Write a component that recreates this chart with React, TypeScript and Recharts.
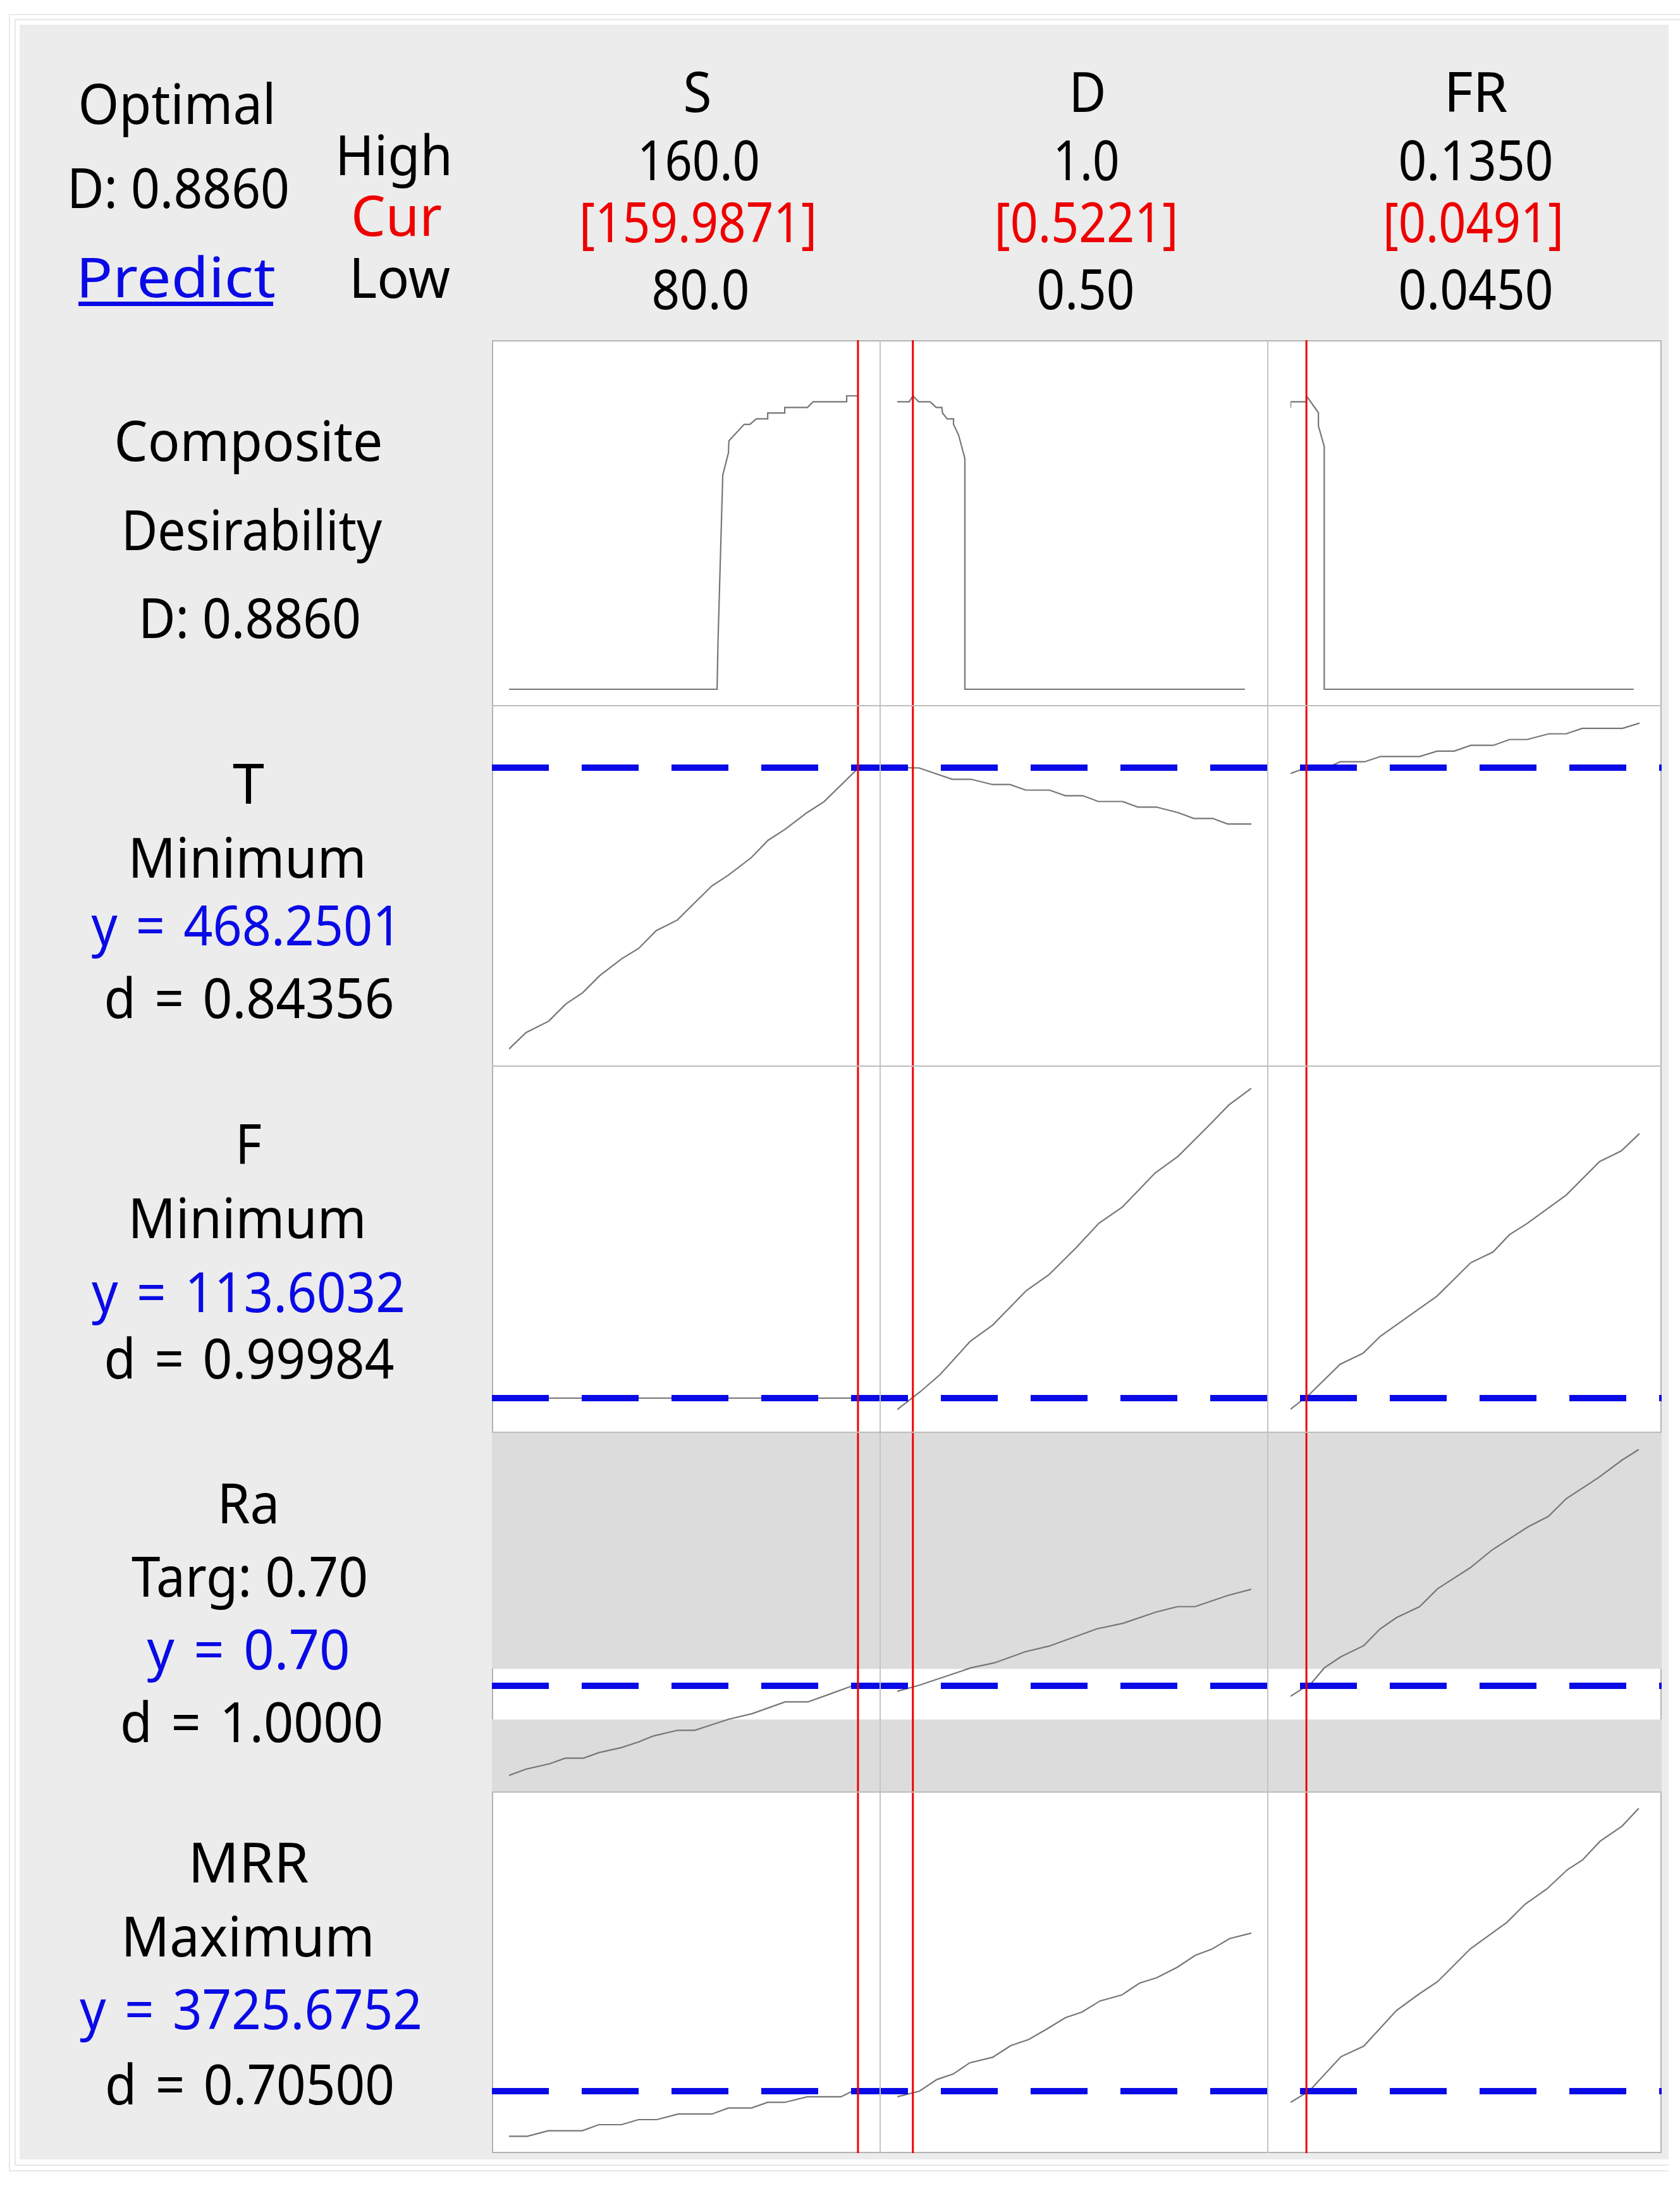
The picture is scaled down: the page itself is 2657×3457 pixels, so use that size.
import React from "react";
import { LineChart, Line, XAxis, YAxis, ReferenceLine, ReferenceArea } from "recharts";

// factor settings (header)
const factorNames = ["S", "D", "FR"];
const factorHigh = [160.0, 1.0, 0.135];
const factorLow = [80.0, 0.5, 0.045];
const factorCur = [159.9871, 0.5221, 0.0491];
const highDigits = [1, 1, 4];
const lowDigits = [1, 2, 4];

const compositeD = 0.886;

// responses
const respNames = ["T", "F", "Ra", "MRR"];
const respGoals = ["Minimum", "Minimum", "Targ: 0.70", "Maximum"];
const respY = [468.2501, 113.6032, 0.7, 3725.6752];
const respYText = ["468.2501", "113.6032", "0.70", "3725.6752"];
const respDText = ["0.84356", "0.99984", "1.0000", "0.70500"];
const raBand = [0.6, 0.75];

type Pt = [number, number];

// composite desirability vs each factor
const dS: Pt[] = [
  [80, 0], [127.7, 0], [127.9, 0.141], [129.0, 0.647], [130.3, 0.714], [130.4, 0.75],
  [133.9, 0.8], [135.2, 0.8], [136.7, 0.8165], [139.3, 0.8165], [139.3, 0.834], [143.2, 0.834],
  [143.2, 0.851], [148.4, 0.851], [149.7, 0.868], [157.4, 0.868], [157.4, 0.886], [160, 0.886],
];
const dD: Pt[] = [
  [0.5, 0.868], [0.517, 0.868], [0.5221, 0.886], [0.5304, 0.868], [0.5464, 0.868], [0.555, 0.851],
  [0.563, 0.851], [0.564, 0.834], [0.5705, 0.8165], [0.5795, 0.8165], [0.5795, 0.8], [0.5866, 0.768],
  [0.5955, 0.697], [0.5955, 0], [0.991, 0],
];
const dFR: Pt[] = [
  [0.045, 0.85], [0.045, 0.868], [0.0491, 0.868], [0.0491, 0.886], [0.0522, 0.835], [0.0522, 0.795],
  [0.0537, 0.733], [0.0537, 0], [0.1335, 0],
];

// T
const tS: Pt[] = [
  [80, 245.8], [83.9, 258.8], [89.1, 267.8], [93.0, 281.3], [96.9, 290.3], [100.8, 303.8],
  [105.9, 317.3], [109.7, 325.3], [113.7, 339.3], [118.6, 347.8], [126.4, 374.5], [130.3, 383.3],
  [135.5, 397.0], [139.4, 410.9], [143.2, 419.3], [148.4, 432.9], [152.2, 441.3], [159.5, 466.0],
  [160, 468.25],
];
const tD: Pt[] = [
  [0.5, 468.3], [0.531, 468.0], [0.5776, 459.1], [0.604, 459.1], [0.6346, 454.9], [0.659, 454.9],
  [0.6816, 450.5], [0.715, 450.5], [0.7375, 446.1], [0.762, 446.1], [0.784, 441.5], [0.818, 441.5],
  [0.8398, 437.1], [0.8659, 437.1], [0.8977, 432.5], [0.9188, 428.1], [0.9455, 428.1], [0.9666, 423.7],
  [1.0, 423.7],
];
const tFR: Pt[] = [
  [0.045, 463.7], [0.0491, 468.25], [0.0554, 469.5], [0.0578, 472.9], [0.0641, 472.9], [0.0682, 477.1],
  [0.0783, 477.1], [0.0828, 481.3], [0.0872, 481.3], [0.0915, 485.9], [0.0973, 485.9], [0.1015, 490.5],
  [0.106, 490.5], [0.1116, 495.0], [0.1161, 495.0], [0.1202, 499.3], [0.1306, 499.3], [0.135, 503.5],
];

// F
const fS: Pt[] = [[80, 113.6032], [160, 113.6032]];
const fD: Pt[] = [
  [0.5, 109.05], [0.5322, 116.05], [0.5605, 122.9], [0.6029, 136.0], [0.6347, 142.45], [0.6823, 156.1],
  [0.7141, 162.35], [0.753, 173.15], [0.7847, 182.7], [0.8182, 189.2], [0.8641, 202.6], [0.8966, 209.2],
  [0.9418, 221.85], [0.9683, 229.5], [1.0, 236.05],
];
const fFR: Pt[] = [
  [0.045, 109.2], [0.0499, 115.1], [0.0578, 127.0], [0.0637, 131.35], [0.0682, 138.1], [0.0828, 153.95],
  [0.0915, 167.15], [0.0972, 171.35], [0.1015, 178.25], [0.106, 182.65], [0.1161, 193.9], [0.1247, 207.1],
  [0.1303, 211.35], [0.135, 218.2],
];

// Ra
const raS: Pt[] = [
  [80, 0.4343], [83.8, 0.4525], [89.3, 0.469], [92.9, 0.4855], [97.1, 0.4855], [100.6, 0.502],
  [105.8, 0.517], [109.7, 0.5337], [113.2, 0.5517], [118.7, 0.5682], [122.6, 0.5682], [126.5, 0.5847],
  [130.4, 0.6012], [135.8, 0.6177], [143.3, 0.6523], [148.5, 0.6523], [153.7, 0.6764], [158.5, 0.699],
  [160, 0.7],
];
const raD: Pt[] = [
  [0.5, 0.6839], [0.5313, 0.7019], [0.6039, 0.7531], [0.6372, 0.7681], [0.6812, 0.8012], [0.7145, 0.8178],
  [0.7817, 0.8688], [0.8188, 0.8853], [0.8651, 0.9184], [0.896, 0.9349], [0.9207, 0.9349], [0.9671, 0.9681],
  [1.0, 0.9861],
];
const raFR: Pt[] = [
  [0.045, 0.6689], [0.0505, 0.7094], [0.0537, 0.7531], [0.058, 0.7863], [0.0639, 0.8193], [0.0681, 0.8688],
  [0.0723, 0.9019], [0.0783, 0.9349], [0.0829, 0.9876], [0.0914, 1.0506], [0.097, 1.1031], [0.1062, 1.171],
  [0.1115, 1.2025], [0.1161, 1.255], [0.1245, 1.3182], [0.1305, 1.3694], [0.1348, 1.4009],
];

// MRR
const mrrS: Pt[] = [
  [80, 3011.7], [84.2, 3011.7], [89.0, 3099.7], [96.8, 3099.7], [100.6, 3195.7], [105.8, 3195.7],
  [109.7, 3275.7], [113.9, 3275.7], [118.8, 3363.7], [126.5, 3363.7], [130.3, 3459.7], [135.6, 3459.7],
  [139.3, 3548.7], [143.2, 3548.7], [148.4, 3636.7], [156.1, 3636.7], [158.7, 3725.7], [160, 3725.7],
];
const mrrD: Pt[] = [
  [0.5, 3636.7], [0.5313, 3725.7], [0.556, 3909.7], [0.5792, 3997.7], [0.6024, 4173.7], [0.6348, 4261.7],
  [0.6603, 4445.7], [0.6858, 4542.7], [0.7105, 4702.7], [0.7376, 4887.7], [0.7608, 4975.7], [0.7863, 5151.7],
  [0.8173, 5247.7], [0.842, 5432.7], [0.8667, 5520.7], [0.896, 5688.7], [0.9207, 5872.7], [0.944, 5969.7],
  [0.9694, 6137.7], [1.0, 6225.7],
];
const mrrFR: Pt[] = [
  [0.045, 3548.7], [0.0498, 3725.7], [0.058, 4269.7], [0.0639, 4437.7], [0.0723, 4999.7], [0.078, 5255.7],
  [0.0829, 5455.7], [0.0914, 5977.7], [0.1008, 6394.7], [0.1055, 6682.7], [0.1111, 6923.7], [0.1164, 7227.7],
  [0.1203, 7380.7], [0.1248, 7676.7], [0.1305, 7917.7], [0.1348, 8197.7],
];

const BLUE = "#0a0ae6";
const RED = "#ee0000";
const CURVE = "#767676";
const FONT = '"Noto Sans", "Open Sans", sans-serif';

const PLOT_LEFT = 778;
const PLOT_RIGHT = 2628;
const PLOT_TOP = 538;
const PLOT_BOTTOM = 3405;
const PLOT_W = PLOT_RIGHT - PLOT_LEFT;

const COLS = [
  { id: "S", padL: 27, padR: 1271 },
  { id: "D", padL: 641, padR: 649 },
  { id: "FR", padL: 1263, padR: 35 },
];

type RowDef = {
  top: number;
  h: number;
  domain: [number, number];
  curves: Pt[][];
  target?: number;
  band?: number[];
};

const ROWS: RowDef[] = [
  { top: 538, h: 578, domain: [-0.0496, 1.054], curves: [dS, dD, dFR] },
  { top: 1116, h: 570, domain: [232.25, 517.25], curves: [tS, tD, tFR], target: respY[0] },
  { top: 1686, h: 579, domain: [100.1032, 244.8532], curves: [fS, fD, fFR], target: respY[1] },
  { top: 2265, h: 569, domain: [0.385, 1.4519], curves: [raS, raD, raFR], target: respY[2], band: raBand },
  { top: 2834, h: 571, domain: [2745.6752, 8455.6752], curves: [mrrS, mrrD, mrrFR], target: respY[3] },
];

function RowChart({ row }: { row: RowDef }) {
  const items: React.ReactNode[] = [];
  COLS.forEach((c, i) => {
    items.push(
      <XAxis
        key={"x" + c.id}
        xAxisId={c.id}
        dataKey="x"
        type="number"
        domain={[factorLow[i], factorHigh[i]]}
        padding={{ left: c.padL, right: c.padR }}
        hide
        allowDataOverflow
      />
    );
  });
  // whole-row axis (0 = left edge of the S panel, 1 = right edge of the FR panel)
  items.push(<XAxis key="xfull" xAxisId="full" dataKey="x" type="number" domain={[0, 1]} hide allowDataOverflow />);
  items.push(<YAxis key="y" type="number" domain={row.domain} hide allowDataOverflow />);
  if (row.band) {
    items.push(
      <ReferenceArea key="bandHi" xAxisId="full" x1={0} x2={1} y1={row.band[1]} y2={row.domain[1]} fill="#dcdcdc" fillOpacity={1} stroke="none" ifOverflow="visible" />
    );
    items.push(
      <ReferenceArea key="bandLo" xAxisId="full" x1={0} x2={1} y1={row.domain[0]} y2={row.band[0]} fill="#dcdcdc" fillOpacity={1} stroke="none" ifOverflow="visible" />
    );
  }
  COLS.forEach((c, i) => {
    items.push(
      <Line
        key={"l" + c.id}
        xAxisId={c.id}
        data={row.curves[i].map(([x, y]) => ({ x, y }))}
        dataKey="y"
        type="linear"
        stroke={CURVE}
        strokeWidth={2.2}
        dot={false}
        activeDot={false}
        isAnimationActive={false}
      />
    );
  });
  if (row.target !== undefined) {
    items.push(
      <Line
        key="target"
        xAxisId="full"
        data={[{ x: 0, y: row.target }, { x: 1, y: row.target }]}
        dataKey="y"
        type="linear"
        stroke={BLUE}
        strokeWidth={10}
        strokeDasharray="90 52"
        dot={false}
        activeDot={false}
        isAnimationActive={false}
      />
    );
  }
  COLS.forEach((c, i) => {
    items.push(<ReferenceLine key={"cur" + c.id} xAxisId={c.id} x={factorCur[i]} stroke={RED} strokeWidth={3} />);
  });
  return (
    <div style={{ position: "absolute", left: PLOT_LEFT, top: row.top }}>
      <LineChart width={PLOT_W} height={row.h} margin={{ top: 0, right: 0, bottom: 0, left: 0 }}>
        {items}
      </LineChart>
    </div>
  );
}

function Txt({ x, y, w, color = "#000", children }: { x: number; y: number; w: number; color?: string; children: React.ReactNode }) {
  return (
    <text
      x={x}
      y={y}
      textAnchor="middle"
      textLength={w + 8}
      lengthAdjust="spacingAndGlyphs"
      fill={color}
      fontSize={88}
      fontFamily={FONT}
    >
      {children}
    </text>
  );
}

const SP = " \u200a";

const hdrCenters = {
  name: [1103, 1720, 2334],
  high: [1105, 1718, 2334],
  cur: [1104, 1718, 2330],
  low: [1108, 1717, 2334],
};
const hdrWidths = {
  name: [37, 51, 93],
  high: [186, 97, 237],
  cur: [368, 283, 278],
  low: [147, 147, 237],
};

// left label block layout: [centerX, baseline, width] for the 4 lines of each response
const respLayout = [
  [[393, 1271, 42], [391, 1388, 369], [390, 1495, 483], [394, 1610, 451]],
  [[393, 1841, 34], [391, 1958, 369], [393, 2075, 488], [394, 2180, 451]],
  [[393, 2409, 91], [395, 2525, 366], [393, 2640, 313], [398, 2755, 408]],
  [[393, 2977, 183], [392, 3094, 393], [397, 3209, 534], [395, 3328, 450]],
];

function Labels() {
  return (
    <svg width={2657} height={3457} style={{ position: "absolute", left: 0, top: 0, pointerEvents: "none" }}>
      <Txt x={280} y={196} w={305}>Optimal</Txt>
      <Txt x={282} y={329} w={344}>{`D: ${compositeD.toFixed(4)}`}</Txt>
      <Txt x={278} y={470} w={308} color={BLUE}>Predict</Txt>
      <rect x={124} y={477} width={308} height={7} fill={BLUE} />
      <Txt x={623} y={277} w={178}>High</Txt>
      <Txt x={627} y={373} w={136} color={RED}>Cur</Txt>
      <Txt x={632} y={471} w={152}>Low</Txt>
      {factorNames.map((n, i) => (
        <g key={n}>
          <Txt x={hdrCenters.name[i]} y={177} w={hdrWidths.name[i]}>{n}</Txt>
          <Txt x={hdrCenters.high[i]} y={285} w={hdrWidths.high[i]}>{factorHigh[i].toFixed(highDigits[i])}</Txt>
          <Txt x={hdrCenters.cur[i]} y={383} w={hdrWidths.cur[i]} color={RED}>{`[${factorCur[i].toFixed(4)}]`}</Txt>
          <Txt x={hdrCenters.low[i]} y={489} w={hdrWidths.low[i]}>{factorLow[i].toFixed(lowDigits[i])}</Txt>
        </g>
      ))}
      <Txt x={393} y={729} w={417}>Composite</Txt>
      <Txt x={398} y={870} w={404}>Desirability</Txt>
      <Txt x={395} y={1009} w={344}>{`D: ${compositeD.toFixed(4)}`}</Txt>
      {respNames.map((n, i) => {
        const L = respLayout[i];
        return (
          <g key={n}>
            <Txt x={L[0][0]} y={L[0][1]} w={L[0][2]}>{n}</Txt>
            <Txt x={L[1][0]} y={L[1][1]} w={L[1][2]}>{respGoals[i]}</Txt>
            <Txt x={L[2][0]} y={L[2][1]} w={L[2][2]} color={BLUE}>{`y${SP}=${SP}${respYText[i]}`}</Txt>
            <Txt x={L[3][0]} y={L[3][1]} w={L[3][2]}>{`d${SP}=${SP}${respDText[i]}`}</Txt>
          </g>
        );
      })}
    </svg>
  );
}

const line = (l: number, t: number, w: number, h: number, c: string): React.CSSProperties => ({
  position: "absolute",
  left: l,
  top: t,
  width: w,
  height: h,
  background: c,
});

export default function App() {
  return (
    <div style={{ position: "absolute", left: 0, top: 0, width: 2657, height: 3457, overflow: "hidden", background: "#fff", fontFamily: FONT }}>
      {/* outer frames */}
      <div style={line(14, 22, 2643, 2, "#e8e8e8")} />
      <div style={line(14, 22, 2, 3412, "#e8e8e8")} />
      <div style={line(14, 3432, 2625, 2, "#e8e8e8")} />
      <div style={line(23, 30, 2634, 2, "#e8e8e8")} />
      <div style={line(23, 30, 2, 3394, "#e8e8e8")} />
      <div style={line(23, 3423, 2616, 2, "#e8e8e8")} />
      {/* gray panel background */}
      <div style={line(31, 39, 2608, 3376, "#ececec")} />
      {/* white plotting area */}
      <div
        style={{
          position: "absolute",
          left: PLOT_LEFT,
          top: PLOT_TOP,
          width: PLOT_W,
          height: PLOT_BOTTOM - PLOT_TOP,
          background: "#fff",
          border: "2px solid #b4b4b4",
          boxSizing: "border-box",
        }}
      />
      {ROWS.map((r, i) => (
        <RowChart key={i} row={r} />
      ))}
      {/* panel separators */}
      <div style={line(1391, PLOT_TOP, 2, PLOT_BOTTOM - PLOT_TOP, "#c4c4c4")} />
      <div style={line(2004, PLOT_TOP, 2, PLOT_BOTTOM - PLOT_TOP, "#c4c4c4")} />
      {ROWS.slice(1).map((r, i) => (
        <div key={i} style={line(PLOT_LEFT, r.top - 1, PLOT_W, 2, "#bdbdbd")} />
      ))}
      <Labels />
    </div>
  );
}
